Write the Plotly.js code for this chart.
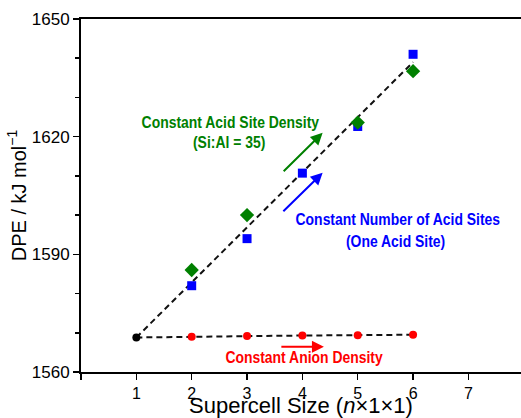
<!DOCTYPE html>
<html>
<head>
<meta charset="utf-8">
<script src="https://cdn.plot.ly/plotly-3.0.1.min.js"></script>
<style>
  html, body { margin: 0; padding: 0; background: #fff; overflow: hidden; }
  #chart { width: 521px; height: 418px; }
  /* narrow bold look for the in-plot labels */
  #chart .annotation-text {
    transform-box: fill-box;
    transform-origin: center;
    transform: scaleX(0.82);
  }
</style>
</head>
<body>
<div id="chart"></div>
<script>
// Supercell sizes (n x 1 x 1)
const refSize = [1];
const refDPE = [1568.8];

// Constant number of acid sites (one acid site)
const oneSiteSize = [2, 3, 4, 5, 6];
const oneSiteDPE = [1582.0, 1594.0, 1610.7, 1622.6, 1641.0];

// Constant acid site density (Si:Al = 35)
const densitySize = [2, 3, 5, 6];
const densityDPE = [1586.0, 1600.0, 1623.6, 1636.7];

// Constant anion density
const anionSize = [2, 3, 4, 5, 6];
const anionDPE = [1569.0, 1569.2, 1569.3, 1569.4, 1569.5];

// Guide lines
const trendSize = [1, 6];
const trendDPE = [1568.8, 1639.0];
const anionLineSize = [1, 2, 3, 4, 5, 6];
const anionLineDPE = [1568.8, 1569.0, 1569.2, 1569.3, 1569.4, 1569.5];

const xTickVals = [0, 1, 2, 3, 4, 5, 6, 7];
const xTickText = ['', '1', '2', '3', '4', '5', '6', '7'];

const GREEN = '#008000', BLUE = '#0000ff', RED = '#ff0000';
const labelFont = "'Liberation Sans', Arial, sans-serif";

const traces = [
  { x: trendSize, y: trendDPE, mode: 'lines',
    line: { color: '#111', width: 2, dash: '6px,4px' }, hoverinfo: 'skip' },
  { x: anionLineSize, y: anionLineDPE, mode: 'lines',
    line: { color: '#111', width: 2, dash: '6px,4px' }, hoverinfo: 'skip' },
  { x: anionSize, y: anionDPE, mode: 'markers',
    marker: { symbol: 'circle', size: 8, color: RED } },
  { x: oneSiteSize, y: oneSiteDPE, mode: 'markers',
    marker: { symbol: 'square', size: 9, color: BLUE } },
  { x: densitySize, y: densityDPE, mode: 'markers',
    marker: { symbol: 'diamond', size: 11, color: GREEN } },
  { x: refSize, y: refDPE, mode: 'markers',
    marker: { symbol: 'circle', size: 8, color: '#000' } }
];

function label(text, x, y, color) {
  return { text: '<b>' + text + '</b>', x: x, y: y, xref: 'x', yref: 'y',
    showarrow: false, xanchor: 'center', yanchor: 'middle',
    font: { family: labelFont, size: 17, color: color } };
}
function arrow(x0, y0, x1, y1, color) {
  return { text: '', x: x1, y: y1, ax: x0, ay: y0, xref: 'x', yref: 'y',
    axref: 'x', ayref: 'y', showarrow: true, arrowhead: 2, arrowsize: 1.2,
    arrowwidth: 2, arrowcolor: color };
}

const layout = {
  width: 521, height: 418,
  margin: { l: 81, r: 0, t: 19, b: 46 },
  paper_bgcolor: '#fff', plot_bgcolor: '#fff',
  showlegend: false,
  font: { family: "'Liberation Sans', Arial, sans-serif", color: '#000' },
  xaxis: {
    range: [0, 7.95], tickvals: xTickVals, ticktext: xTickText,
    showgrid: false, zeroline: false,
    showline: true, linecolor: '#000', linewidth: 2, mirror: true,
    ticks: 'outside', ticklen: 6, tickwidth: 1.5, tickcolor: '#000',
    tickfont: { size: 16 },
    title: { text: 'Supercell Size (<i>n</i>×1×1)', font: { size: 22 }, standoff: 0 }
  },
  yaxis: {
    range: [1560, 1650], tickvals: [1560, 1590, 1620, 1650],
    showgrid: false, zeroline: false,
    showline: true, linecolor: '#000', linewidth: 2,
    ticks: 'outside', ticklen: 6, tickwidth: 1.5, tickcolor: '#000',
    minor: { dtick: 10, ticks: 'outside', ticklen: 4, tickwidth: 1.5, tickcolor: '#000' },
    tickfont: { size: 17 },
    title: { text: 'DPE / kJ mol<sup>−1</sup>', font: { size: 20 }, standoff: 0 }
  },
  annotations: [
    label('Constant Acid Site Density', 2.71, 1623.7, GREEN),
    label('(Si:Al = 35)', 2.67, 1618.4, GREEN),
    label('Constant Number of Acid Sites', 5.73, 1599.0, BLUE),
    label('(One Acid Site)', 5.69, 1593.4, BLUE),
    label('Constant Anion Density', 4.03, 1563.6, RED),
    arrow(3.635, 1610.8, 4.366, 1621.0, GREEN),
    arrow(3.629, 1600.6, 4.366, 1610.8, BLUE),
    arrow(3.593, 1566.45, 4.389, 1566.45, RED)
  ]
};

Plotly.newPlot('chart', traces, layout, { displayModeBar: false, staticPlot: true });
</script>
</body>
</html>
